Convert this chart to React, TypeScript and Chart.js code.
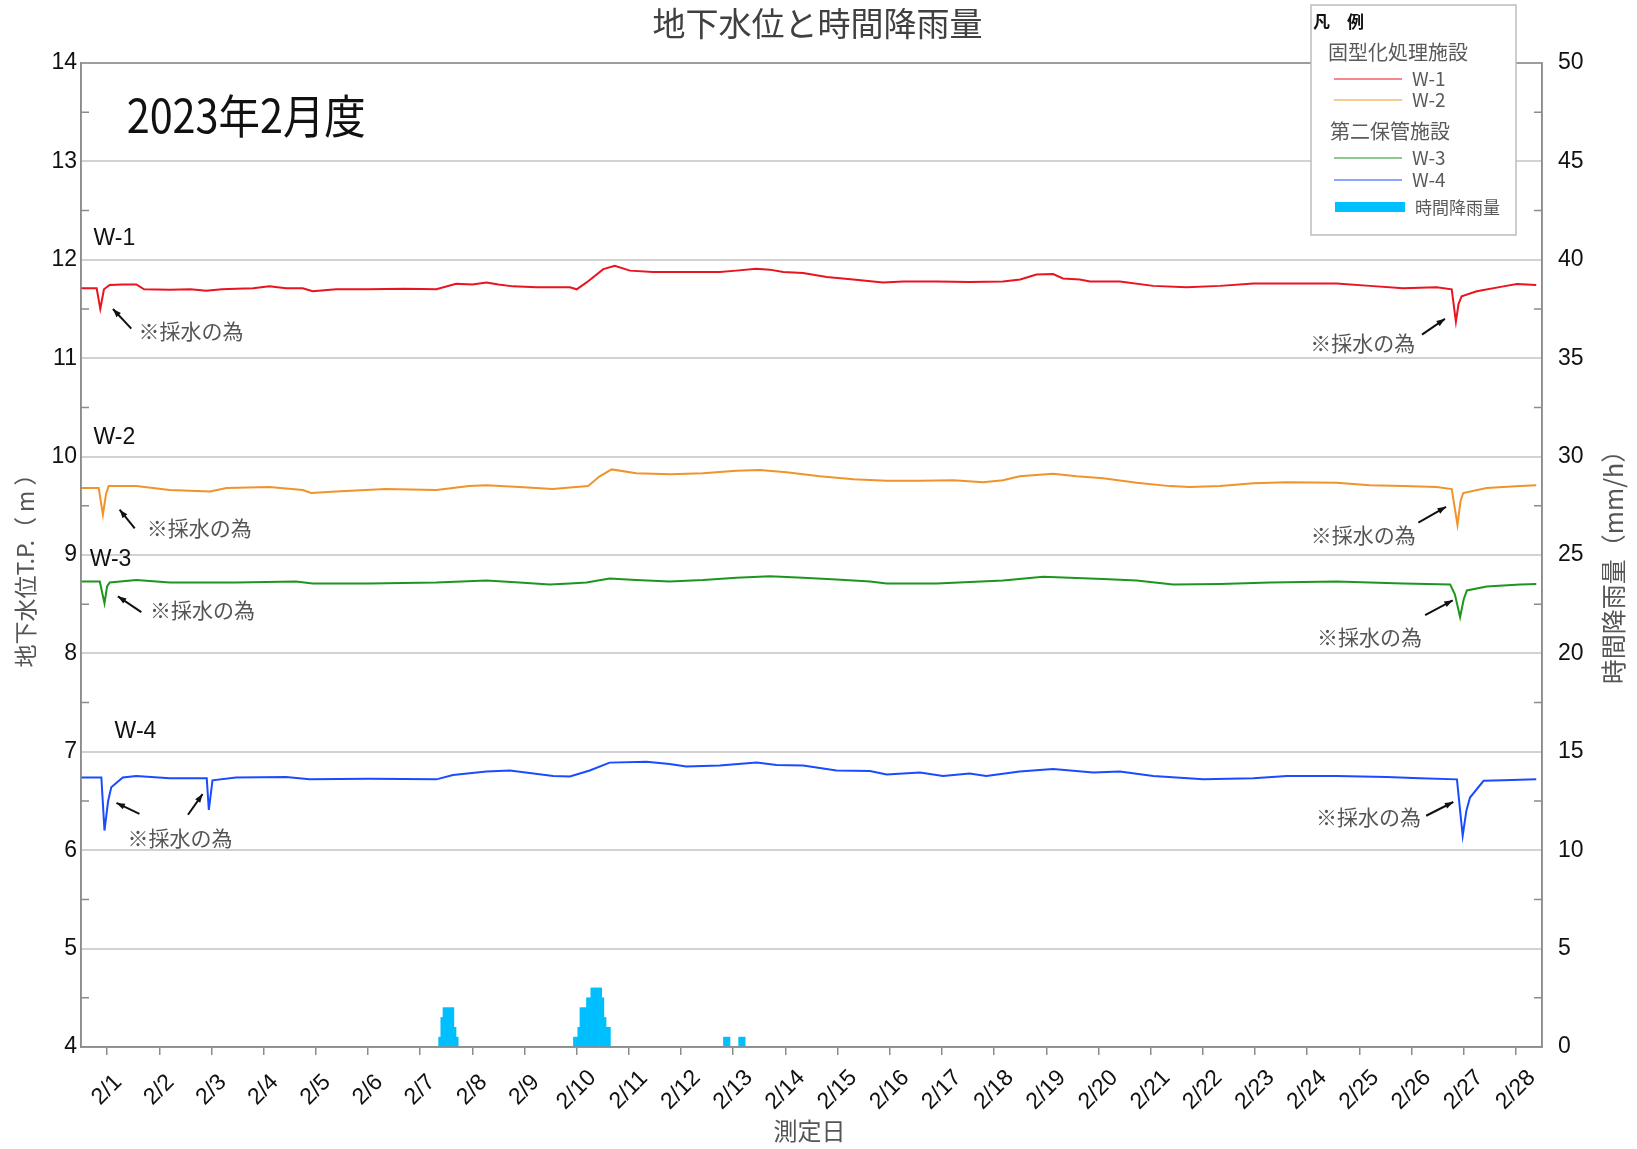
import React, { useEffect, useRef } from "react";
import { Chart, registerables } from "chart.js";

Chart.register(...registerables);

// ---- data ----
const DAY_LABELS = [
  "2/1", "2/2", "2/3", "2/4", "2/5", "2/6", "2/7", "2/8", "2/9", "2/10",
  "2/11", "2/12", "2/13", "2/14", "2/15", "2/16", "2/17", "2/18", "2/19", "2/20",
  "2/21", "2/22", "2/23", "2/24", "2/25", "2/26", "2/27", "2/28",
];
const TICK_DAYS = DAY_LABELS.map((_, i) => i + 0.5);

// days since 2/1 00:00
const W1_DAYS = [0, 0.3, 0.37, 0.44, 0.55, 0.8, 1.06, 1.21, 1.7, 2.1, 2.4, 2.7, 2.97, 3.3, 3.61, 3.93, 4.25, 4.44, 4.89, 5.5, 6.2, 6.81, 7.19, 7.5, 7.77, 8.0, 8.28, 8.73, 9.37, 9.5, 9.69, 10.01, 10.23, 10.52, 10.96, 11.6, 12.24, 12.56, 12.94, 13.2, 13.46, 13.84, 14.29, 14.8, 15.37, 15.76, 16.4, 17.03, 17.67, 18.0, 18.31, 18.63, 18.82, 19.14, 19.34, 19.91, 20.55, 21.19, 21.83, 22.47, 23.11, 24.06, 24.7, 25.34, 25.98, 26.27, 26.35, 26.4, 26.46, 26.75, 27.26, 27.52, 27.89];
const W1_LEVELS = [11.71, 11.71, 11.5, 11.7, 11.745, 11.75, 11.75, 11.7, 11.695, 11.7, 11.685, 11.7, 11.705, 11.71, 11.73, 11.71, 11.71, 11.68, 11.7, 11.7, 11.705, 11.7, 11.756, 11.75, 11.77, 11.75, 11.73, 11.72, 11.72, 11.7, 11.77, 11.905, 11.94, 11.89, 11.875, 11.875, 11.875, 11.89, 11.91, 11.9, 11.875, 11.865, 11.825, 11.8, 11.77, 11.78, 11.78, 11.775, 11.78, 11.8, 11.85, 11.855, 11.81, 11.8, 11.78, 11.78, 11.735, 11.72, 11.735, 11.76, 11.76, 11.76, 11.735, 11.71, 11.72, 11.7, 11.37, 11.55, 11.63, 11.68, 11.73, 11.755, 11.745];

const W2_DAYS = [0, 0.34, 0.42, 0.48, 0.53, 1.06, 1.7, 2.47, 2.79, 3.61, 4.25, 4.41, 4.89, 5.84, 6.81, 7.44, 7.77, 8.4, 9.04, 9.37, 9.72, 9.94, 10.17, 10.64, 11.28, 11.92, 12.56, 13.01, 13.52, 14.16, 14.8, 15.44, 16.08, 16.72, 17.29, 17.67, 17.99, 18.63, 19.08, 19.59, 20.23, 20.87, 21.25, 21.83, 22.47, 23.11, 24.06, 24.7, 25.34, 25.98, 26.27, 26.38, 26.44, 26.49, 26.94, 27.58, 27.89];
const W2_LEVELS = [9.68, 9.68, 9.41, 9.62, 9.7, 9.7, 9.66, 9.645, 9.68, 9.69, 9.66, 9.63, 9.645, 9.67, 9.66, 9.7, 9.71, 9.69, 9.67, 9.685, 9.7, 9.8, 9.87, 9.83, 9.82, 9.83, 9.855, 9.865, 9.84, 9.8, 9.77, 9.755, 9.755, 9.76, 9.74, 9.76, 9.8, 9.825, 9.8, 9.78, 9.735, 9.7, 9.69, 9.7, 9.73, 9.74, 9.735, 9.71, 9.7, 9.69, 9.67, 9.305, 9.55, 9.63, 9.68, 9.7, 9.71];

const W3_DAYS = [0, 0.36, 0.45, 0.5, 0.55, 1.06, 1.7, 2.97, 4.12, 4.44, 5.52, 6.81, 7.77, 8.4, 8.98, 9.37, 9.69, 10.13, 10.64, 11.28, 11.92, 12.56, 13.2, 13.84, 14.48, 15.12, 15.44, 16.4, 17.67, 18.44, 18.95, 19.59, 20.23, 20.93, 21.83, 22.79, 24.06, 25.34, 26.24, 26.33, 26.43, 26.5, 26.56, 26.94, 27.58, 27.89];
const W3_LEVELS = [8.73, 8.73, 8.51, 8.68, 8.72, 8.745, 8.72, 8.72, 8.73, 8.71, 8.71, 8.72, 8.74, 8.72, 8.7, 8.71, 8.72, 8.76, 8.745, 8.73, 8.745, 8.77, 8.785, 8.77, 8.75, 8.73, 8.71, 8.71, 8.74, 8.78, 8.77, 8.755, 8.74, 8.7, 8.705, 8.72, 8.73, 8.71, 8.7, 8.6, 8.37, 8.55, 8.64, 8.68, 8.7, 8.705];

const W4_DAYS = [0, 0.39, 0.45, 0.52, 0.58, 0.8, 1.06, 1.7, 2.34, 2.41, 2.45, 2.52, 2.97, 3.93, 4.38, 5.52, 6.81, 7.13, 7.77, 8.22, 9.05, 9.37, 9.75, 10.13, 10.84, 11.28, 11.6, 12.24, 12.95, 13.33, 13.84, 14.48, 15.12, 15.44, 16.08, 16.52, 17.03, 17.35, 17.99, 18.63, 19.4, 19.91, 20.55, 21.51, 22.47, 23.11, 24.06, 25.02, 25.66, 26.37, 26.48, 26.55, 26.62, 26.88, 27.26, 27.89];
const W4_LEVELS = [6.74, 6.74, 6.2, 6.5, 6.64, 6.74, 6.755, 6.73, 6.73, 6.73, 6.41, 6.71, 6.74, 6.745, 6.72, 6.725, 6.72, 6.765, 6.8, 6.81, 6.755, 6.75, 6.81, 6.89, 6.9, 6.875, 6.85, 6.86, 6.89, 6.865, 6.86, 6.81, 6.805, 6.77, 6.79, 6.755, 6.78, 6.755, 6.8, 6.825, 6.79, 6.8, 6.755, 6.72, 6.73, 6.755, 6.755, 6.745, 6.73, 6.72, 6.145, 6.4, 6.535, 6.705, 6.71, 6.72];

// hourly rainfall: hours since 2/1 00:00, mm/h
const RAIN_HOURS = [165, 166, 167, 168, 169, 170, 171, 172, 173,
  227, 228, 229, 230, 231, 232, 233, 234, 235, 236, 237, 238, 239, 240, 241, 242, 243,
  296, 297, 298, 303, 304, 305];
const RAIN_MM = [0.5, 1.5, 2, 2, 2, 2, 2, 1, 0.5,
  0.5, 0.5, 1, 2, 2, 2, 2.5, 2.5, 3, 3, 3, 3, 3, 2.5, 1.5, 1, 1,
  0.5, 0.5, 0.5, 0.5, 0.5, 0.5];

const SERIES_NAMES = ["W-1", "W-2", "W-3", "W-4"];
const SERIES_COLORS = ["#e8141e", "#f0932b", "#1e961e", "#1a4cff"];
const RAIN_COLOR = "#00bfff";

// annotation anchors in data units (day, level)
const SERIES_LABELS = [
  { text: "W-1", day: 0.24, level: 12.21 },
  { text: "W-2", day: 0.24, level: 10.19 },
  { text: "W-3", day: 0.166, level: 8.95 },
  { text: "W-4", day: 0.644, level: 7.2 },
];
const NOTE_TEXT = "※採水の為";
const NOTES = [
  { day: 1.1, level: 11.28, arrows: [[0.964, 11.3, 0.612, 11.5]] },
  { day: 23.56, level: 11.15, arrows: [[25.7, 11.24, 26.14, 11.4]] },
  { day: 1.26, level: 9.27, arrows: [[1.03, 9.27, 0.74, 9.46]] },
  { day: 23.57, level: 9.2, arrows: [[25.63, 9.33, 26.16, 9.49]] },
  { day: 1.32, level: 8.44, arrows: [[1.156, 8.42, 0.707, 8.58]] },
  { day: 23.69, level: 8.17, arrows: [[25.76, 8.39, 26.29, 8.54]] },
  { day: 0.89, level: 6.12, arrows: [[1.12, 6.37, 0.68, 6.48], [2.05, 6.36, 2.33, 6.57]] },
  { day: 23.67, level: 6.34, arrows: [[25.78, 6.35, 26.3, 6.49]] },
];
const MONTH_LABEL = { text: "2023年2月度", day: 0.875, level: 13.47 };

const TITLE = "地下水位と時間降雨量";
const X_TITLE = "測定日";
const Y_TITLE = "地下水位T.P.（ m ）";
const Y2_TITLE = "時間降雨量（mm/h）";

const CJK = '"Noto Sans CJK JP", "Noto Sans", sans-serif';
const LATIN = '"Liberation Sans", Arial, sans-serif';
const FRAME = "#8c8c8c";

const W = 1637;
const H = 1149;

function drawArrow(ctx: CanvasRenderingContext2D, x1: number, y1: number, x2: number, y2: number) {
  ctx.save();
  ctx.strokeStyle = "#111";
  ctx.fillStyle = "#111";
  ctx.lineWidth = 2;
  ctx.beginPath();
  ctx.moveTo(x1, y1);
  ctx.lineTo(x2, y2);
  ctx.stroke();
  const a = Math.atan2(y2 - y1, x2 - x1);
  const L = 9;
  ctx.beginPath();
  ctx.moveTo(x2, y2);
  ctx.lineTo(x2 - L * Math.cos(a - 0.35), y2 - L * Math.sin(a - 0.35));
  ctx.lineTo(x2 - L * Math.cos(a + 0.35), y2 - L * Math.sin(a + 0.35));
  ctx.closePath();
  ctx.fill();
  ctx.restore();
}

const decorPlugin = {
  id: "decor",
  afterDraw(chart: any) {
    const ctx: CanvasRenderingContext2D = chart.ctx;
    const { left, right, top, bottom } = chart.chartArea;
    const xs = chart.scales.x;
    const ys = chart.scales.y;
    ctx.save();

    // frame
    ctx.strokeStyle = FRAME;
    ctx.lineWidth = 1.5;
    ctx.strokeRect(left, top, right - left, bottom - top);

    // inward minor ticks at half steps
    ctx.beginPath();
    for (let v = 4.5; v < 14; v += 1) {
      const py = ys.getPixelForValue(v);
      ctx.moveTo(left, py);
      ctx.lineTo(left + 8, py);
      ctx.moveTo(right - 8, py);
      ctx.lineTo(right, py);
    }
    ctx.stroke();

    // x labels, rotated and centred under each tick
    ctx.fillStyle = "#111";
    ctx.font = `23px ${LATIN}`;
    ctx.textAlign = "center";
    ctx.textBaseline = "middle";
    TICK_DAYS.forEach((d, i) => {
      const px = xs.getPixelForValue(d);
      ctx.save();
      ctx.translate(px, bottom + 43);
      ctx.rotate(-Math.PI / 4);
      ctx.fillText(DAY_LABELS[i], 0, 0);
      ctx.restore();
    });

    // titles
    ctx.fillStyle = "#404040";
    ctx.font = `33px ${CJK}`;
    ctx.fillText(TITLE, (left + right) / 2 + 6, 23);
    ctx.fillStyle = "#555";
    ctx.font = `24px ${CJK}`;
    ctx.fillText(X_TITLE, (left + right) / 2 - 2, 1131);
    ctx.save();
    ctx.translate(25, (top + bottom) / 2 + 10);
    ctx.rotate(-Math.PI / 2);
    ctx.font = `23px ${CJK}`;
    ctx.fillText(Y_TITLE, 0, 0);
    ctx.restore();
    ctx.save();
    ctx.translate(1613, (top + bottom) / 2 + 6);
    ctx.rotate(-Math.PI / 2);
    ctx.font = `25px ${CJK}`;
    ctx.fillText(Y2_TITLE, 0, 0);
    ctx.restore();

    // month label
    ctx.fillStyle = "#111";
    ctx.textAlign = "left";
    ctx.save();
    ctx.translate(xs.getPixelForValue(MONTH_LABEL.day), ys.getPixelForValue(MONTH_LABEL.level));
    ctx.scale(0.9, 1);
    ctx.font = `46px ${CJK}`;
    ctx.fillText(MONTH_LABEL.text, 0, 0);
    ctx.restore();

    // series labels
    ctx.font = `23px ${LATIN}`;
    ctx.fillStyle = "#111";
    SERIES_LABELS.forEach((s) => {
      ctx.fillText(s.text, xs.getPixelForValue(s.day), ys.getPixelForValue(s.level));
    });

    // notes
    ctx.font = `21px ${CJK}`;
    ctx.fillStyle = "#555";
    NOTES.forEach((n) => {
      ctx.fillText(NOTE_TEXT, xs.getPixelForValue(n.day), ys.getPixelForValue(n.level));
      n.arrows.forEach((a) => {
        drawArrow(ctx, xs.getPixelForValue(a[0]), ys.getPixelForValue(a[1]), xs.getPixelForValue(a[2]), ys.getPixelForValue(a[3]));
      });
    });

    // legend box
    const lx = 1311, ly = 5, lw = 205, lh = 230;
    ctx.fillStyle = "#fff";
    ctx.fillRect(lx, ly, lw, lh);
    ctx.strokeStyle = "#bdbdbd";
    ctx.lineWidth = 1.5;
    ctx.strokeRect(lx, ly, lw, lh);
    ctx.textBaseline = "middle";
    ctx.fillStyle = "#111";
    ctx.font = `bold 17px ${CJK}`;
    ctx.fillText("凡", 1313, 22);
    ctx.fillText("例", 1347, 22);
    ctx.fillStyle = "#5a5a5a";
    ctx.font = `20px ${CJK}`;
    ctx.fillText("固型化処理施設", 1328, 52);
    ctx.fillText("第二保管施設", 1330, 131);
    const rows = [79, 100, 158, 180];
    ctx.font = `19px ${CJK}`;
    rows.forEach((ry, i) => {
      ctx.strokeStyle = SERIES_COLORS[i];
      ctx.lineWidth = 1.2;
      ctx.beginPath();
      ctx.moveTo(1334, ry);
      ctx.lineTo(1402, ry);
      ctx.stroke();
      ctx.fillText(SERIES_NAMES[i], 1412, ry);
    });
    ctx.fillStyle = RAIN_COLOR;
    ctx.fillRect(1335, 202, 70, 10);
    ctx.fillStyle = "#5a5a5a";
    ctx.font = `17px ${CJK}`;
    ctx.fillText("時間降雨量", 1415, 208);

    ctx.restore();
  },
};

export default function App() {
  const ref = useRef<HTMLCanvasElement | null>(null);

  useEffect(() => {
    if (!ref.current) return;
    const series = [
      [W1_DAYS, W1_LEVELS],
      [W2_DAYS, W2_LEVELS],
      [W3_DAYS, W3_LEVELS],
      [W4_DAYS, W4_LEVELS],
    ];
    const lineSets = series.map(([days, levels], i) => ({
      type: "line" as const,
      label: SERIES_NAMES[i],
      data: days.map((d, k) => ({ x: d, y: levels[k] })),
      borderColor: SERIES_COLORS[i],
      backgroundColor: SERIES_COLORS[i],
      borderWidth: 2,
      pointRadius: 0,
      tension: 0,
      yAxisID: "y",
      order: 1,
    }));
    const rainSet = {
      type: "bar" as const,
      label: "時間降雨量",
      data: RAIN_HOURS.map((h, k) => ({ x: h / 24, y: RAIN_MM[k] })),
      backgroundColor: RAIN_COLOR,
      borderWidth: 0,
      barPercentage: 1,
      categoryPercentage: 1,
      yAxisID: "y2",
      order: 2,
    };

    const chart = new Chart(ref.current, {
      type: "line",
      data: { datasets: [rainSet as any, ...lineSets] },
      options: {
        responsive: false,
        animation: false,
        devicePixelRatio: 1,
        layout: { padding: { top: 63, left: 0, right: 0, bottom: 0 } },
        plugins: {
          legend: { display: false },
          title: { display: false },
          tooltip: { enabled: false },
        },
        scales: {
          x: {
            type: "linear",
            min: 0,
            max: 28,
            offset: false,
            afterBuildTicks: (s: any) => {
              s.ticks = TICK_DAYS.map((v) => ({ value: v }));
            },
            afterFit: (s: any) => {
              s.height = 102;
            },
            ticks: { display: false },
            grid: { offset: false, drawOnChartArea: false, drawTicks: true, tickLength: 8, color: FRAME, lineWidth: 1.5 },
            border: { display: true, color: FRAME, width: 1.5 },
          },
          y: {
            position: "left",
            min: 4,
            max: 14,
            afterFit: (s: any) => {
              s.width = 81;
            },
            ticks: { stepSize: 1, padding: 4, color: "#111", font: { family: LATIN, size: 23 } },
            grid: { color: "#d2d2d2", lineWidth: 2, drawTicks: false },
            border: { display: true, color: FRAME, width: 1.5 },
          },
          y2: {
            position: "right",
            min: 0,
            max: 50,
            afterFit: (s: any) => {
              s.width = 95;
            },
            ticks: { stepSize: 5, padding: 16, color: "#111", font: { family: LATIN, size: 23 } },
            grid: { drawOnChartArea: false, drawTicks: false },
            border: { display: true, color: FRAME, width: 1.5 },
          },
        },
      },
      plugins: [decorPlugin],
    });
    return () => chart.destroy();
  }, []);

  return (
    <div style={{ position: "absolute", left: 0, top: 0, width: W, height: H, background: "#fff" }}>
      <canvas ref={ref} width={W} height={H} style={{ width: W, height: H, display: "block" }} />
    </div>
  );
}
